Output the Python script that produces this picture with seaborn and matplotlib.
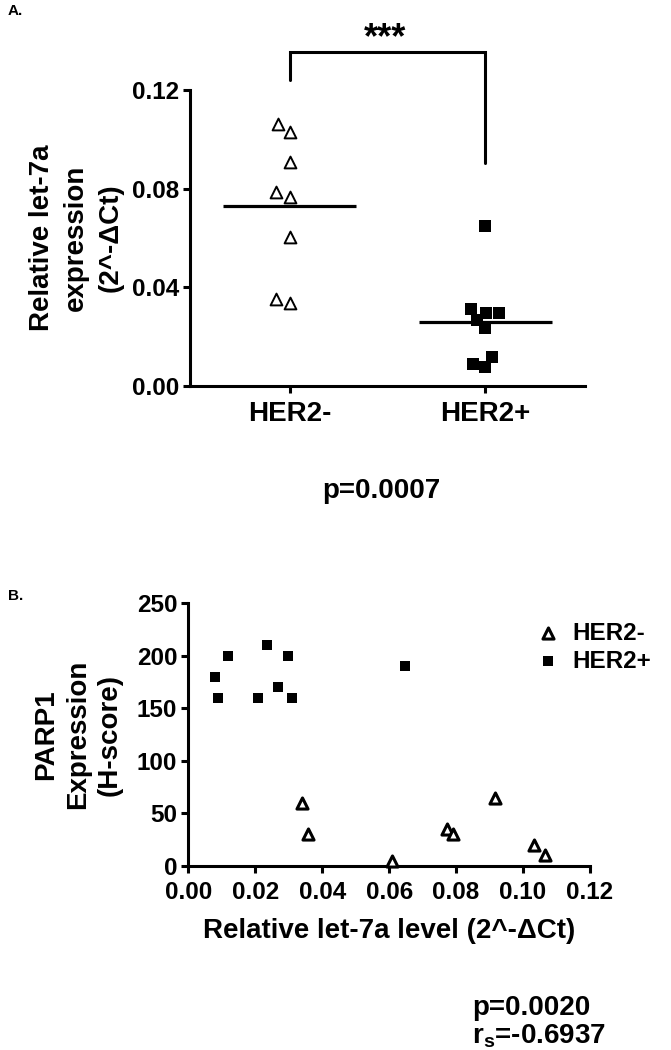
import numpy as np
import pandas as pd
import matplotlib
matplotlib.use("Agg")
import matplotlib.pyplot as plt
import seaborn as sns

# ---------------- data ----------------
groups = ["HER2-", "HER2+"]
# Panel A: relative let-7a expression (2^-dCt)
let7a_her2_neg = [0.1028, 0.1062, 0.0909, 0.0767, 0.0788, 0.0605, 0.0338, 0.0353]
let7a_her2_pos = [0.0297, 0.0268, 0.0311, 0.0297, 0.0234, 0.0119, 0.0078, 0.0089, 0.0649]
a_yticks = [0.00, 0.04, 0.08, 0.12]

# Panel B: let-7a level vs PARP1 H-score
b_neg_let7a = [0.0340, 0.0358, 0.0609, 0.0772, 0.0792, 0.0917, 0.1033, 0.1067]
b_neg_parp1 = [60, 30, 5, 35, 30, 65, 20, 10]
b_pos_let7a = [0.0080, 0.0088, 0.0119, 0.0209, 0.0235, 0.0268, 0.0298, 0.0309, 0.0648]
b_pos_parp1 = [180, 160, 200, 160, 210, 170, 200, 160, 190]
b_xticks = [0.00, 0.02, 0.04, 0.06, 0.08, 0.10, 0.12]
b_yticks = [0, 50, 100, 150, 200, 250]

p_value_a = "p=0.0007"
p_value_b = "p=0.0020"
rs_text = "r$_{s}$=-0.6937"
stars = "***"

# ---------------- style ----------------
sns.set_style("ticks")
plt.rcParams["font.family"] = ["Liberation Sans", "DejaVu Sans"]
plt.rcParams["font.weight"] = "bold"
plt.rcParams["axes.labelweight"] = "bold"
for key in ["text.color", "axes.labelcolor", "xtick.color", "ytick.color",
            "axes.edgecolor", "xtick.labelcolor", "ytick.labelcolor"]:
    plt.rcParams[key] = "black"
plt.rcParams["mathtext.fontset"] = "custom"
plt.rcParams["mathtext.rm"] = "Liberation Sans:bold"
plt.rcParams["mathtext.it"] = "Liberation Sans:bold"
plt.rcParams["mathtext.bf"] = "Liberation Sans:bold"
plt.rcParams["mathtext.default"] = "rm"

W, H = 671, 1050
fig = plt.figure(figsize=(W / 100, H / 100), dpi=100)
fig.patch.set_facecolor("white")

def px_axes(x0, y0, x1, y1):
    return fig.add_axes([x0 / W, 1 - y1 / H, (x1 - x0) / W, (y1 - y0) / H])

SPINE_LW = 2.2
TICK_FS = 17.5
LABEL_FS = 20

def style_axes(ax):
    for s in ["top", "right"]:
        ax.spines[s].set_visible(False)
    for s in ["left", "bottom"]:
        ax.spines[s].set_linewidth(SPINE_LW)
        ax.spines[s].set_color("black")
    ax.set_facecolor("white")
    ax.tick_params(axis="both", direction="out", length=5, width=SPINE_LW,
                   color="black", labelcolor="black")

# ---------------- Panel A ----------------
axA = px_axes(190, 90, 585, 386)
dfA = pd.DataFrame({
    "group": ["HER2-"] * len(let7a_her2_neg) + ["HER2+"] * len(let7a_her2_pos),
    "value": let7a_her2_neg + let7a_her2_pos,
})
sns.swarmplot(data=dfA[dfA.group == "HER2-"], x="group", y="value", order=groups,
              marker="^", color="white", edgecolor="black", linewidth=1.4,
              size=8.5, ax=axA, zorder=3)
sns.swarmplot(data=dfA[dfA.group == "HER2+"], x="group", y="value", order=groups,
              marker="s", color="black", edgecolor="black", linewidth=0,
              size=8.5, ax=axA, zorder=3)
for i, vals in enumerate([let7a_her2_neg, let7a_her2_pos]):
    axA.hlines(np.mean(vals), i - 0.34, i + 0.34, color="black", lw=2.3, zorder=2)

axA.set_xlim(-0.51, 1.51)
axA.set_ylim(0, 0.12)
axA.set_yticks(a_yticks)
axA.set_yticklabels([f"{v:.2f}" for v in a_yticks], fontsize=TICK_FS, fontweight="bold")
axA.set_xticks(range(len(groups)))
axA.set_xticklabels(groups, fontsize=LABEL_FS, fontweight="bold")
axA.set_xlabel("")
axA.set_ylabel("Relative let-7a\nexpression\n(2^-\u0394Ct)", fontsize=LABEL_FS,
               fontweight="bold", linespacing=1.4, labelpad=6)
style_axes(axA)
axA.tick_params(axis="x", pad=6)
axA.tick_params(axis="y", pad=3)

# significance bracket
axA.plot([0, 0, 1, 1], [0.124, 0.1354, 0.1354, 0.0904], color="black",
         lw=2.2, clip_on=False, solid_joinstyle="miter")
fig.text(385 / W, 1 - 48 / H, stars, ha="center", va="baseline",
         fontsize=26, fontweight="bold")

fig.text(381 / W, 1 - 498 / H, p_value_a, ha="center", va="baseline",
         fontsize=LABEL_FS, fontweight="bold")
fig.text(8 / W, 1 - 15 / H, "A.", ha="left", va="baseline",
         fontsize=11, fontweight="bold")

# ---------------- Panel B ----------------
axB = px_axes(188.3, 603.3, 590, 866)
sns.scatterplot(x=b_neg_let7a, y=b_neg_parp1, marker="^", s=64, color="white",
                edgecolor="black", linewidth=2.2, label="HER2-", ax=axB,
                zorder=3, clip_on=False)
sns.scatterplot(x=b_pos_let7a, y=b_pos_parp1, marker="s", s=52, color="black",
                edgecolor="black", linewidth=0, label="HER2+", ax=axB,
                zorder=3, clip_on=False)
axB.set_xlim(0, 0.12)
axB.set_ylim(0, 250)
axB.set_xticks(b_xticks)
axB.set_xticklabels([f"{v:.2f}" for v in b_xticks], fontsize=TICK_FS, fontweight="bold")
axB.set_yticks(b_yticks)
axB.set_yticklabels([str(v) for v in b_yticks], fontsize=TICK_FS, fontweight="bold")
axB.set_xlabel("Relative let-7a level (2^-\u0394Ct)", fontsize=LABEL_FS,
               fontweight="bold", labelpad=10)
axB.set_ylabel("PARP1\nExpression\n(H-score)", fontsize=LABEL_FS,
               fontweight="bold", linespacing=1.3, labelpad=10)
style_axes(axB)
axB.tick_params(axis="x", pad=6)
axB.tick_params(axis="y", pad=3)
axB.legend(loc="upper left", bbox_to_anchor=(0.865, 0.93), frameon=False,
           prop={"size": TICK_FS, "weight": "bold"}, handletextpad=0.5,
           labelspacing=0.2, borderpad=0, borderaxespad=0, handlelength=1.0)

fig.text(8 / W, 1 - 600 / H, "B.", ha="left", va="baseline",
         fontsize=11, fontweight="bold")
fig.text(472 / W, 1 - 1015 / H, p_value_b, ha="left", va="baseline",
         fontsize=LABEL_FS, fontweight="bold")
fig.text(472 / W, 1 - 1043 / H, rs_text, ha="left", va="baseline",
         fontsize=LABEL_FS, fontweight="bold")

fig.savefig("out.png", dpi=100, facecolor="white")
